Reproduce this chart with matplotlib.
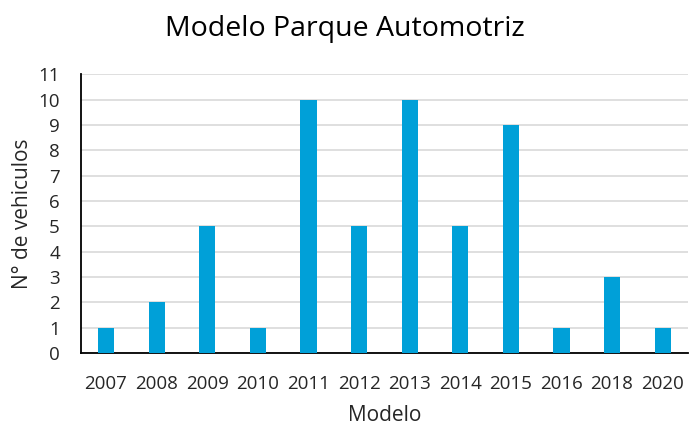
import matplotlib
matplotlib.use('Agg')
import matplotlib.pyplot as plt
import numpy as np

plt.rcParams['font.family'] = ['Open Sans', 'DejaVu Sans']

# datos
modelos = ['2007', '2008', '2009', '2010', '2011', '2012', '2013', '2014',
           '2015', '2016', '2018', '2020']
vehiculos = [1, 2, 5, 1, 10, 5, 10, 5, 9, 1, 3, 1]

fig = plt.figure(figsize=(6.9, 4.24), dpi=100)
ax = fig.add_axes([0.117, 0.167, 0.880, 0.658])

x = np.arange(len(modelos))
ax.bar(x, vehiculos, width=0.32, color='#00A0D8', zorder=3)

ax.set_xlim(-0.5, len(modelos) - 0.5)
ax.set_ylim(0, 11)
ax.set_yticks(range(0, 12))
ax.set_xticks(x)
ax.set_xticklabels(modelos)
ax.tick_params(axis='both', length=0, labelsize=13.5, colors='#262626')
ax.tick_params(axis='x', pad=16)
ax.tick_params(axis='y', pad=15)
ax.grid(axis='y', color='#D9D9D9', linewidth=1.2, zorder=0)

for s in ['top', 'right']:
    ax.spines[s].set_visible(False)
ax.spines['left'].set_color('black')
ax.spines['bottom'].set_color('black')
ax.spines['left'].set_linewidth(1.3)
ax.spines['bottom'].set_linewidth(1.3)

ax.set_xlabel('Modelo', fontsize=15, labelpad=8, color='#262626')
ax.set_ylabel('N° de vehiculos', fontsize=15, labelpad=4, color='#262626')
fig.suptitle('Modelo Parque Automotriz', fontsize=20.5, y=0.965, x=0.5)

fig.savefig('out.png', dpi=100)
